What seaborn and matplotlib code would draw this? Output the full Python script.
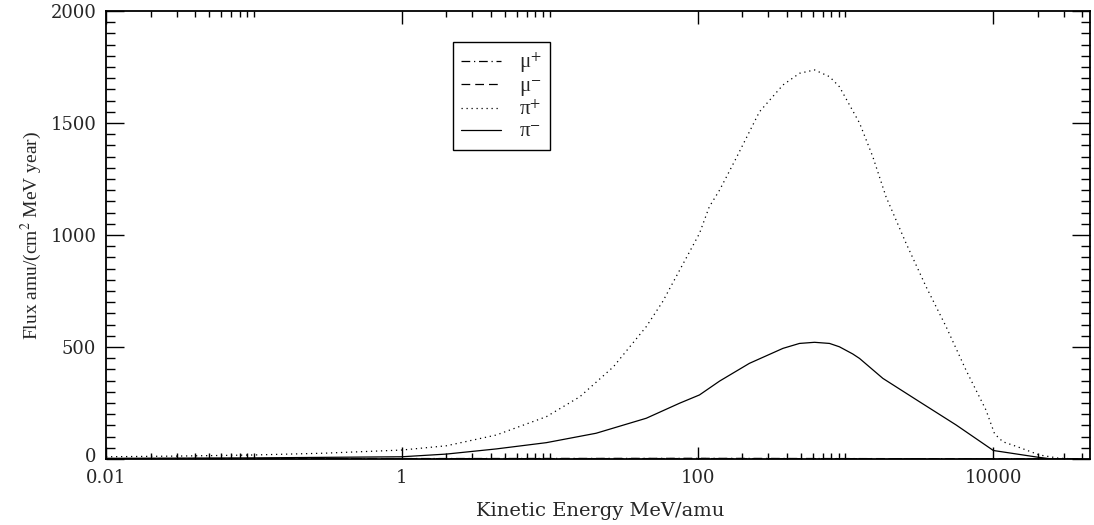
import numpy as np
import pandas as pd
import matplotlib
matplotlib.use("Agg")
import matplotlib.pyplot as plt
import matplotlib.transforms as mtransforms
from matplotlib.ticker import FixedLocator, MultipleLocator, NullFormatter
import seaborn as sns

# ---------------- data ----------------
mu_plus_energy = [0.01, 1, 100, 1000, 10000, 40000]
mu_plus_flux = [2, 2, 3, 2, 1, 0]

mu_minus_energy = [0.01, 1, 100, 1000, 10000, 40000]
mu_minus_flux = [1, 1.5, 2, 1.5, 0.5, 0]

pi_plus_energy = [0.01, 0.03, 0.1, 0.3, 1, 2, 4.35, 9.5, 16, 27, 45, 58, 103,
                  120, 141, 182, 262, 378, 489, 618, 780, 910, 1245, 1530,
                  1880, 2570, 3510, 4790, 6530, 8910, 10200, 11600, 14500,
                  20500, 28000, 40000]
pi_plus_flux = [10, 13, 18, 26, 40, 59, 107, 189, 278, 412, 591, 702, 1007,
                1126, 1201, 1342, 1550, 1670, 1722, 1737, 1707, 1662, 1500, 1350,
                1171, 963, 769, 591, 397, 219, 112, 77, 55,
                18, 3, 0]

pi_minus_energy = [0.01, 0.1, 1, 2, 4.35, 9.5, 20.6, 45, 75.5, 103, 141, 224,
                   378, 489, 618, 780, 910, 1120, 1245, 1790, 3160, 5600, 10000,
                   20000, 25000, 40000]
pi_minus_flux = [3, 5, 10, 22, 45, 73, 115, 182, 249, 286, 348, 427,
                 494, 516, 521, 516, 501, 469, 449, 360, 256, 152, 38,
                 8, 0, 0]

series_names = ["\u03bc$^{+}$", "\u03bc$^{-}$", "\u03c0$^{+}$", "\u03c0$^{-}$"]
x_tick_values = [0.01, 1, 100, 10000]
x_tick_labels = ["0.01", "1", "100", "10000"]
y_tick_values = [0, 500, 1000, 1500, 2000]
y_tick_labels = ["0", "500", "1000", "1500", "2000"]
x_label = "Kinetic Energy MeV/amu"
y_label = "Flux amu/(cm$^{2}$ MeV year)"

# ---------------- styling ----------------
sns.set_style("ticks")
plt.rcParams["font.family"] = ["Liberation Serif", "DejaVu Serif"]
plt.rcParams["mathtext.fontset"] = "stix"

fig = plt.figure(figsize=(10.94, 5.25), dpi=100)
ax = fig.add_axes([0.0969, 0.1257, 0.8994, 0.8533])

frames = []
for name, e, f in [(series_names[0], mu_plus_energy, mu_plus_flux),
                   (series_names[1], mu_minus_energy, mu_minus_flux),
                   (series_names[2], pi_plus_energy, pi_plus_flux),
                   (series_names[3], pi_minus_energy, pi_minus_flux)]:
    frames.append(pd.DataFrame({"energy": e, "flux": f, "particle": name}))
df = pd.concat(frames, ignore_index=True)

dash_styles = {
    series_names[0]: (7, 3, 1, 3),
    series_names[1]: (7, 4),
    series_names[2]: (1, 3),
    series_names[3]: "",
}

sns.lineplot(data=df, x="energy", y="flux", style="particle",
             style_order=series_names, dashes=dash_styles, color="black",
             linewidth=0.9, estimator=None, sort=False, ax=ax, legend=True)

ax.set_xscale("log")
ax.set_xlim(0.01, 45000)
ax.set_ylim(0, 2000)

# major ticks every two decades, minor ticks only in the decade after each major
minor_x = [m * k for m in x_tick_values for k in range(2, 11)]
ax.xaxis.set_major_locator(FixedLocator(x_tick_values))
ax.set_xticklabels(x_tick_labels)
ax.xaxis.set_minor_locator(FixedLocator(minor_x))
ax.xaxis.set_minor_formatter(NullFormatter())
ax.yaxis.set_major_locator(FixedLocator(y_tick_values))
ax.set_yticklabels(y_tick_labels)
ax.yaxis.set_minor_locator(MultipleLocator(50))

for lab in ax.get_xticklabels() + ax.get_yticklabels():
    lab.set_fontfamily("DejaVu Serif")
    lab.set_fontsize(13)

ax.tick_params(axis="both", which="both", direction="in", top=True, right=True,
               color="black", width=1.0)
ax.tick_params(axis="x", which="major", length=9, pad=7)
ax.tick_params(axis="x", which="minor", length=4.5)
ax.tick_params(axis="y", which="major", length=13, pad=7)
ax.tick_params(axis="y", which="minor", length=6.5)

# lift the "0" y label slightly so it clears "0.01" below it
zero_lab = ax.get_yticklabels()[0]
zero_lab.set_transform(zero_lab.get_transform() +
                       mtransforms.ScaledTranslation(0, 3 / 72, fig.dpi_scale_trans))

for sp in ax.spines.values():
    sp.set_linewidth(1.3)
    sp.set_color("black")

ax.set_xlabel(x_label, fontfamily="DejaVu Serif", fontsize=14)
ax.xaxis.set_label_coords(0.502, -0.095)
ax.set_ylabel(y_label, fontfamily="Liberation Serif", fontsize=14)
ax.yaxis.set_label_coords(-0.063, 0.5)

handles, labels = ax.get_legend_handles_labels()
leg = ax.legend(handles, labels, loc="upper left", bbox_to_anchor=(0.3527, 0.931),
                frameon=True, fancybox=False, edgecolor="black", framealpha=1,
                fontsize=15, handlelength=1.9, handletextpad=0.85,
                labelspacing=0.1, borderpad=0.4, borderaxespad=0)
leg.get_frame().set_linewidth(1.0)

fig.savefig("out.png", dpi=100)
